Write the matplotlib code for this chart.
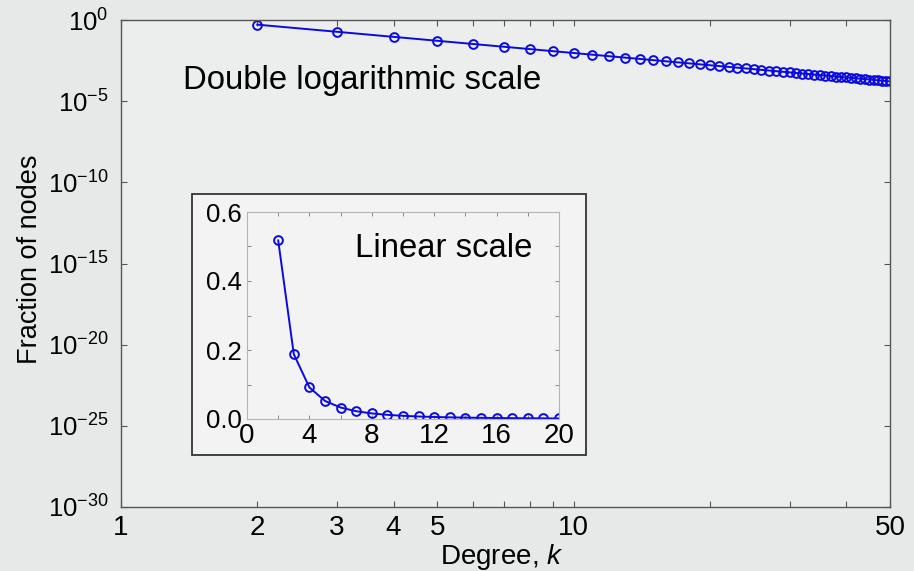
import matplotlib
matplotlib.use('Agg')
import matplotlib.pyplot as plt
from matplotlib.patches import Rectangle
from matplotlib.ticker import FixedLocator, FixedFormatter, NullLocator

plt.rcParams['font.family'] = ['Liberation Sans', 'DejaVu Sans']
plt.rcParams['mathtext.fontset'] = 'custom'
plt.rcParams['mathtext.rm'] = 'Liberation Sans'
plt.rcParams['mathtext.it'] = 'Liberation Sans:italic'
plt.rcParams['axes.unicode_minus'] = False

# === Data (fraction of nodes with degree k) ===
degree = list(range(2, 51))
fraction = [0.5176, 0.1878, 0.0915, 0.05238, 0.03320, 0.02259, 0.01617, 0.01205,
            0.009259, 0.007296, 0.005870, 0.004805, 0.003993, 0.003360, 0.002859,
            0.002457, 0.002130, 0.001861, 0.001637, 0.001449, 0.001290, 0.001154,
            0.001038, 0.000937, 0.000849, 0.000773, 0.000706, 0.000647, 0.000594,
            0.000547, 0.000505, 0.000468, 0.000434, 0.000404, 0.000377, 0.000352,
            0.000329, 0.000308, 0.000289, 0.000272, 0.000256, 0.000241, 0.000228,
            0.000216, 0.000204, 0.000193, 0.000183, 0.000174, 0.000166]
inset_n = 19  # k = 2..20 in the linear inset

x_ticks = [1, 2, 3, 4, 5, 6, 7, 8, 9, 10, 20, 30, 40, 50]
x_labels = ['1', '2', '3', '4', '5', '', '', '', '', '10', '', '', '', '50']
y_ticks = [1e-30, 1e-25, 1e-20, 1e-15, 1e-10, 1e-5, 1e0]
y_labels = [r'$\mathdefault{10^{-30}}$', r'$\mathdefault{10^{-25}}$', r'$\mathdefault{10^{-20}}$',
            r'$\mathdefault{10^{-15}}$', r'$\mathdefault{10^{-10}}$', r'$\mathdefault{10^{-5}}$',
            r'$\mathdefault{10^{0}}$']
inset_x_ticks = list(range(0, 21, 2))
inset_x_labels = ['0', '', '4', '', '8', '', '12', '', '16', '', '20']
inset_y_ticks = [0.0, 0.1, 0.2, 0.3, 0.4, 0.5, 0.6]
inset_y_labels = ['0.0', '', '0.2', '', '0.4', '', '0.6']

blue = '#0a0ae0'
bg = '#e7e9e8'

fig = plt.figure(figsize=(9.14, 5.71), dpi=100, facecolor=bg)

# — main log-log axes —
ax = fig.add_axes([121/914, 1 - 507/571, (890 - 121)/914, (507 - 20)/571])
ax.set_facecolor('#eceeed')
ax.plot(degree, fraction, '-o', color=blue, lw=1.4, ms=6.3, mfc='none', mew=1.4)
ax.set_xscale('log')
ax.set_yscale('log')
ax.set_xlim(1, 50)
ax.set_ylim(1e-30, 1e0)
ax.xaxis.set_major_locator(FixedLocator(x_ticks))
ax.xaxis.set_major_formatter(FixedFormatter(x_labels))
ax.xaxis.set_minor_locator(NullLocator())
ax.yaxis.set_major_locator(FixedLocator(y_ticks))
ax.yaxis.set_major_formatter(FixedFormatter(y_labels))
ax.yaxis.set_minor_locator(NullLocator())
ax.tick_params(axis='both', direction='in', top=True, right=True, length=4,
               width=0.8, color='#555555')
ax.tick_params(axis='x', labelsize=20, pad=6)
ax.tick_params(axis='y', labelsize=18.5, pad=9)
for s in ax.spines.values():
    s.set_color('#555555')
    s.set_linewidth(1.0)

fig.text(30/914, 1 - 259/571, 'Fraction of nodes', rotation=90, fontsize=19.5,
         ha='center', va='center')
fig.text(502/914, 1 - 557/571, 'Degree, $\\mathit{k}$', fontsize=20,
         ha='center', va='center')
fig.text(183/914, 1 - 81/571, 'Double logarithmic scale', fontsize=23.7,
         ha='left', va='center')

# — inset box + linear axes —
fig.patches.append(Rectangle((192/914, 1 - 455/571), (586 - 192)/914, (455 - 194)/571,
                             transform=fig.transFigure, facecolor='#f2f3f2',
                             edgecolor='#333333', lw=1.3, zorder=2))
ins = fig.add_axes([247/914, 1 - 419/571, (559 - 247)/914, (419 - 212)/571], zorder=3)
ins.set_facecolor('#f2f3f2')
ins.plot(degree[:inset_n], fraction[:inset_n], '-o', color=blue, lw=1.4, ms=6.3,
         mfc='none', mew=1.4)
ins.set_xlim(0, 20)
ins.set_ylim(0, 0.6)
ins.xaxis.set_major_locator(FixedLocator(inset_x_ticks))
ins.xaxis.set_major_formatter(FixedFormatter(inset_x_labels))
ins.yaxis.set_major_locator(FixedLocator(inset_y_ticks))
ins.yaxis.set_major_formatter(FixedFormatter(inset_y_labels))
ins.tick_params(axis='both', direction='in', top=True, right=True, length=3,
                width=0.7, color='#888888')
ins.tick_params(axis='x', labelsize=20, pad=3)
ins.tick_params(axis='y', labelsize=18.5, pad=4)
for s in ins.spines.values():
    s.set_color('#b5b5b5')
    s.set_linewidth(0.8)
ins.text(0.346, 0.826, 'Linear scale', transform=ins.transAxes, fontsize=23.7,
         ha='left', va='center')

fig.savefig('out.png', dpi=100, facecolor=bg)
